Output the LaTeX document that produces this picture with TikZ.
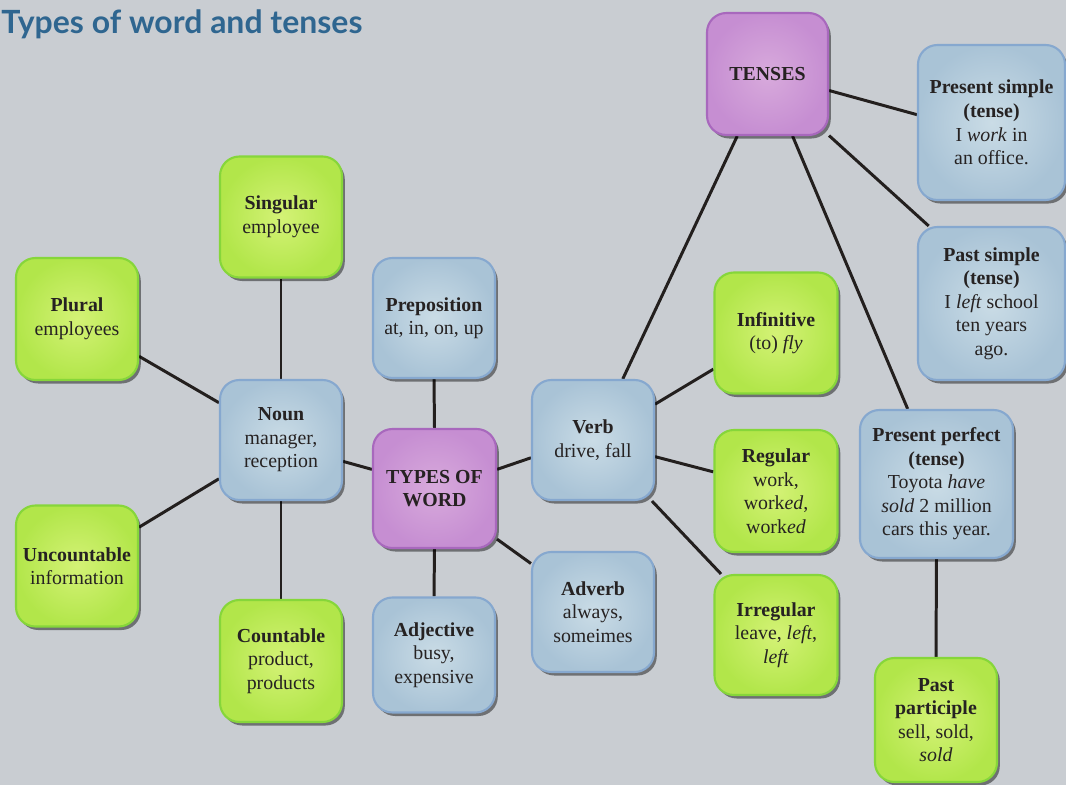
\documentclass[tikz,border=0pt]{standalone}
\usepackage{fontspec}
\setmainfont{Liberation Serif}
\newfontfamily\serifbody{Liberation Serif}
\newfontfamily\titlefont{Lato}
\usetikzlibrary{shadows}
\definecolor{bgc}{HTML}{C9CDD2}
\definecolor{titlec}{HTML}{2F6690}
\definecolor{textc}{HTML}{262222}
\definecolor{linec}{HTML}{231F1E}
\definecolor{ginner}{HTML}{D4F276}
\definecolor{gouter}{HTML}{B2E64A}
\definecolor{gedge}{HTML}{86D63A}
\definecolor{binner}{HTML}{CADCE6}
\definecolor{bouter}{HTML}{A9C3D6}
\definecolor{bedge}{HTML}{86A8CF}
\definecolor{pinner}{HTML}{D8AADC}
\definecolor{pouter}{HTML}{C68ED2}
\definecolor{pedge}{HTML}{A868BD}
\pgfdeclarelayer{bglayer}
\pgfdeclarelayer{linelayer}
\pgfsetlayers{bglayer,linelayer,main}
\newcommand{\bodyfont}{\serifbody\fontsize{11.3}{13.4}\selectfont}
\tikzset{
  boxbase/.style={rounded corners=11pt, line width=1.2pt,
    drop shadow={shadow xshift=1.6pt, shadow yshift=-2pt, opacity=.45, fill=black},
    align=center, font=\bodyfont, text=textc, inner sep=2pt},
  gbox/.style={boxbase, draw=gedge, inner color=ginner, outer color=gouter},
  bbox/.style={boxbase, draw=bedge, inner color=binner, outer color=bouter},
  pbox/.style={boxbase, draw=pedge, inner color=pinner, outer color=pouter},
  conn/.style={draw=linec, line width=1.7pt},
}
\begin{document}
\begin{tikzpicture}[x=0.02cm,y=-0.02cm]
\begin{pgfonlayer}{bglayer}
\fill[bgc] (0,0) rectangle (1066,785);
\end{pgfonlayer}
\useasboundingbox (0,0) rectangle (1066,785);

\node[anchor=base west, inner sep=0, text=titlec,
  font=\titlefont\bfseries\fontsize{18.2}{21}\selectfont] (title) at (1,33) {Types of word and tenses};

% left part
\node[gbox, minimum width=2.44cm, minimum height=2.42cm] (sing) at (281,217) {\textbf{Singular}\\employee};
\node[gbox, minimum width=2.44cm, minimum height=2.44cm] (plur) at (77,319) {\textbf{Plural}\\employees};
\node[bbox, minimum width=2.44cm, minimum height=2.40cm] (noun) at (281,440) {\textbf{Noun}\\manager,\\reception};
\node[gbox, minimum width=2.44cm, minimum height=2.42cm] (unc) at (77,566) {\textbf{Uncountable}\\information};
\node[gbox, minimum width=2.44cm, minimum height=2.44cm] (cnt) at (281,661) {\textbf{Countable}\\product,\\products};

% centre
\node[bbox, minimum width=2.44cm, minimum height=2.40cm] (prep) at (434,318) {\textbf{Preposition}\\at, in, on, up};
\node[pbox, minimum width=2.46cm, minimum height=2.38cm] (types) at (434.5,488.5) {\textbf{TYPES OF}\\\textbf{WORD}};
\node[bbox, minimum width=2.44cm, minimum height=2.30cm] (adj) at (434,655) {\textbf{Adjective}\\busy,\\expensive};
\node[bbox, minimum width=2.44cm, minimum height=2.40cm] (verb) at (593,440) {\textbf{Verb}\\drive, fall};
\node[bbox, minimum width=2.44cm, minimum height=2.40cm] (adv) at (593,612) {\textbf{Adverb}\\always,\\someimes};

% verb forms
\node[gbox, minimum width=2.46cm, minimum height=2.42cm] (inf) at (776,333) {\textbf{Infinitive}\\(to) \textit{fly}};
\node[gbox, minimum width=2.46cm, minimum height=2.44cm] (reg) at (776,491) {\textbf{Regular}\\work,\\work\textit{ed},\\work\textit{ed}};
\node[gbox, minimum width=2.46cm, minimum height=2.40cm] (irr) at (776,635) {\textbf{Irregular}\\leave, \textit{left},\\\textit{left}};

% tenses
\node[pbox, minimum width=2.42cm, minimum height=2.44cm] (tenses) at (767.5,74) {\textbf{TENSES}};
\node[bbox, minimum width=2.94cm, minimum height=3.10cm] (pres) at (991.5,122.5) {\textbf{Present simple}\\\textbf{(tense)}\\I \textit{work} in\\an office.};
\node[bbox, minimum width=2.94cm, minimum height=3.06cm] (past) at (991.5,303.5) {\textbf{Past simple}\\\textbf{(tense)}\\I \textit{left} school\\ten years\\ago.};
\node[bbox, minimum width=3.06cm, minimum height=2.96cm] (perf) at (936.5,484) {\textbf{Present perfect}\\\textbf{(tense)}\\Toyota \textit{have}\\\textit{sold} 2 million\\cars this year.};
\node[gbox, minimum width=2.44cm, minimum height=2.48cm] (ppart) at (936,720) {\textbf{Past}\\\textbf{participle}\\sell, sold,\\\textit{sold}};

\begin{pgfonlayer}{linelayer}
\draw[conn] (sing.south) -- (noun.north);
\draw[conn] (plur.-31) -- (noun.149.5);
\draw[conn] (unc.32) -- (noun.212);
\draw[conn] (cnt.north) -- (noun.south);
\draw[conn] (noun.-19) -- (types.163);
\draw[conn] (prep.south) -- (types.north);
\draw[conn] (adj.north) -- (types.south);
\draw[conn] (types.17) -- (verb.196.4);
\draw[conn] (types.-39) -- (adv.142.7);
\draw[conn] (verb.30.5) -- (inf.210);
\draw[conn] (verb.-15) -- (reg.163.5);
\draw[conn] (verb.-46.6) -- (irr.132.8);
\draw[conn] (verb.64) -- (tenses.244);
\draw[conn] (tenses.-15.7) -- (pres.174);
\draw[conn] (tenses.-45.8) -- (past.129);
\draw[conn] (tenses.-68) -- (perf.111.6);
\draw[conn] (perf.south) -- (ppart.north);
\end{pgfonlayer}
\end{tikzpicture}
\end{document}
